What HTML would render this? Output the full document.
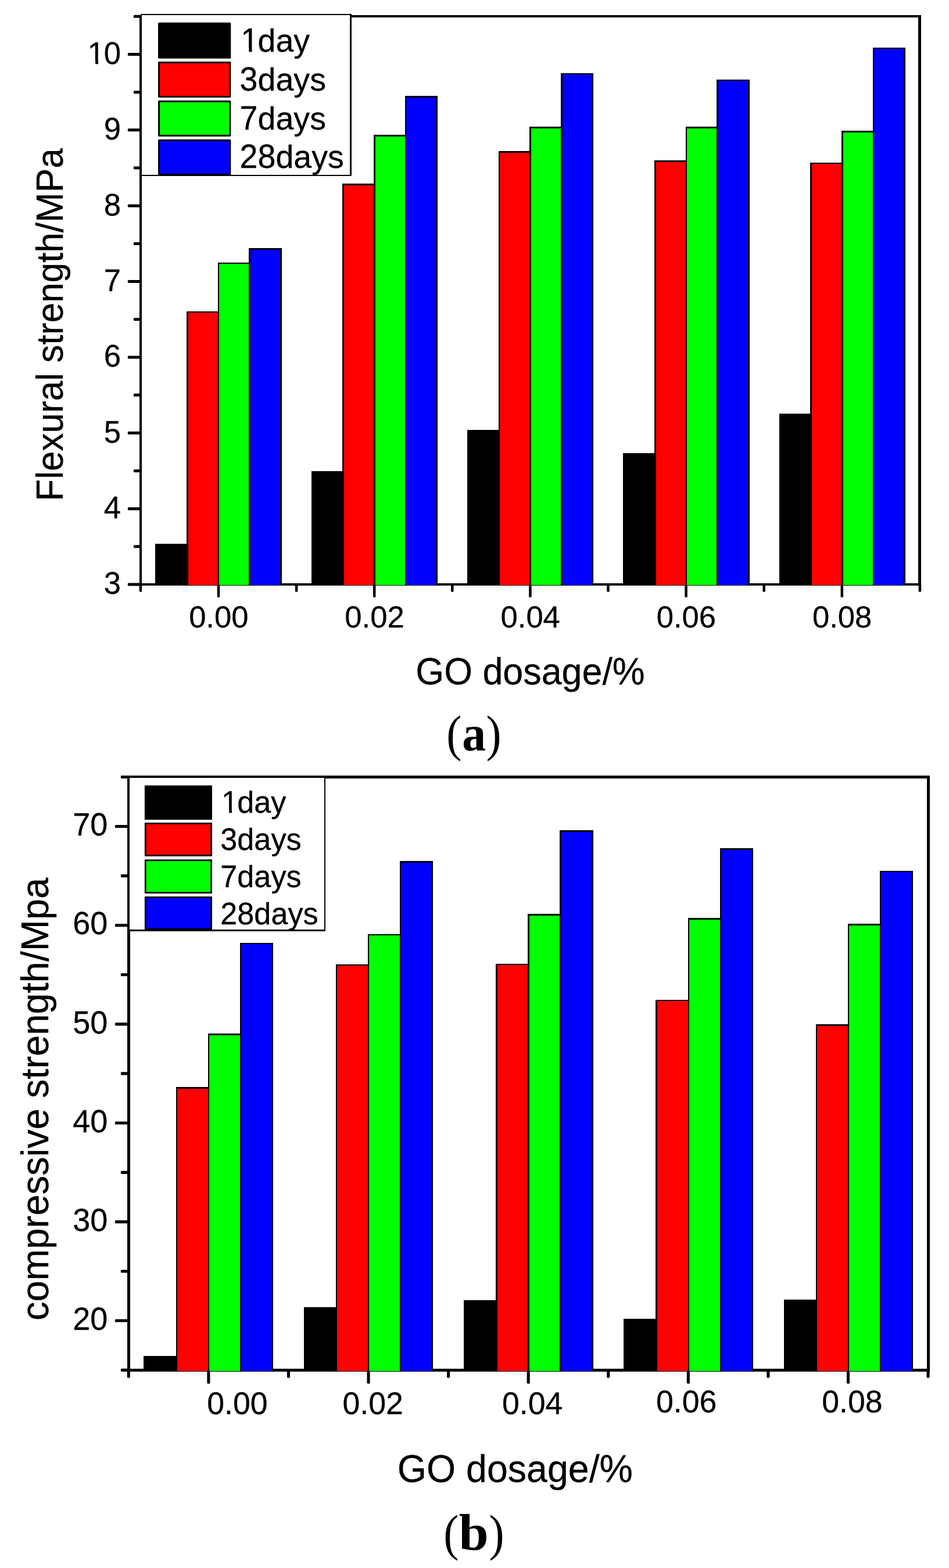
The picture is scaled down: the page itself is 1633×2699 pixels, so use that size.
<!DOCTYPE html>
<html lang="en"><head><meta charset="utf-8"><title>Flexural and compressive strength vs GO dosage</title>
<style>html,body{margin:0;padding:0;background:#fff;}body{width:1633px;height:2699px;overflow:hidden;}svg{display:block;}</style>
</head><body>
<svg width="1633" height="2699" viewBox="0 0 1633 2699">
<rect x="0" y="0" width="1633" height="2699" fill="#ffffff"/>
<defs><clipPath id="k1"><path clip-rule="evenodd" d="M-20 -88.96 H444.8 V55.6 H-20 Z M3.31 -5.52 H15.78 V4 H3.31 Z M21 -5.52 H31.52 V4 H21 Z"/></clipPath><clipPath id="k2"><path clip-rule="evenodd" d="M-20 -84.16 H420.8 V52.6 H-20 Z M2.77 -5.13 H14.63 V4 H2.77 Z M19.58 -5.13 H29.54 V4 H19.58 Z"/></clipPath><clipPath id="k3"><path clip-rule="evenodd" d="M-20 -83.52 H417.6 V52.2 H-20 Z M3.15 -5.26 H14.93 V4 H3.15 Z M19.84 -5.26 H29.73 V4 H19.84 Z"/></clipPath></defs>
<g shape-rendering="crispEdges">
<rect x="239.85" y="25.85" width="4.3" height="982.5" fill="#000"/>
<rect x="1580.35" y="25.85" width="4.3" height="982.5" fill="#000"/>
<rect x="239.85" y="25.85" width="1344.8" height="4.3" fill="#000"/>
<rect x="239.85" y="1004.05" width="1344.8" height="4.3" fill="#000"/>
</g>
<g>
<rect x="219.85" y="1003.5" width="22" height="5" rx="1.6" fill="#000"/>
<rect x="229.85" y="938.32" width="12" height="5" rx="1.6" fill="#000"/>
<rect x="219.85" y="873.14" width="22" height="5" rx="1.6" fill="#000"/>
<rect x="229.85" y="807.96" width="12" height="5" rx="1.6" fill="#000"/>
<rect x="219.85" y="742.78" width="22" height="5" rx="1.6" fill="#000"/>
<rect x="229.85" y="677.6" width="12" height="5" rx="1.6" fill="#000"/>
<rect x="219.85" y="612.42" width="22" height="5" rx="1.6" fill="#000"/>
<rect x="229.85" y="547.24" width="12" height="5" rx="1.6" fill="#000"/>
<rect x="219.85" y="482.06" width="22" height="5" rx="1.6" fill="#000"/>
<rect x="229.85" y="416.88" width="12" height="5" rx="1.6" fill="#000"/>
<rect x="219.85" y="351.7" width="22" height="5" rx="1.6" fill="#000"/>
<rect x="229.85" y="286.52" width="12" height="5" rx="1.6" fill="#000"/>
<rect x="219.85" y="221.34" width="22" height="5" rx="1.6" fill="#000"/>
<rect x="229.85" y="156.16" width="12" height="5" rx="1.6" fill="#000"/>
<rect x="219.85" y="90.98" width="22" height="5" rx="1.6" fill="#000"/>
<rect x="229.85" y="25.8" width="12" height="5" rx="1.6" fill="#000"/>
<rect x="239.65" y="1006.35" width="4.5" height="12.5" rx="1.6" fill="#000"/>
<rect x="373.75" y="1006.35" width="4.5" height="22" rx="1.6" fill="#000"/>
<rect x="507.85" y="1006.35" width="4.5" height="12.5" rx="1.6" fill="#000"/>
<rect x="641.95" y="1006.35" width="4.5" height="22" rx="1.6" fill="#000"/>
<rect x="776.05" y="1006.35" width="4.5" height="12.5" rx="1.6" fill="#000"/>
<rect x="910.15" y="1006.35" width="4.5" height="22" rx="1.6" fill="#000"/>
<rect x="1044.25" y="1006.35" width="4.5" height="12.5" rx="1.6" fill="#000"/>
<rect x="1178.35" y="1006.35" width="4.5" height="22" rx="1.6" fill="#000"/>
<rect x="1312.45" y="1006.35" width="4.5" height="12.5" rx="1.6" fill="#000"/>
<rect x="1446.55" y="1006.35" width="4.5" height="22" rx="1.6" fill="#000"/>
<rect x="1580.65" y="1006.35" width="4.5" height="12.5" rx="1.6" fill="#000"/>
</g>
<clipPath id="bc1"><rect x="0" y="0" width="1633" height="1008"/></clipPath>
<g clip-path="url(#bc1)" stroke="#000" stroke-width="2.5" shape-rendering="crispEdges">
<rect x="268.68" y="937.2" width="53.66" height="71.05" fill="#000000"/>
<rect x="322.34" y="537.2" width="53.66" height="471.05" fill="#ff0000"/>
<rect x="376" y="453.1" width="53.66" height="555.15" fill="#00ff00"/>
<rect x="429.66" y="428.5" width="53.66" height="579.75" fill="#0000ff"/>
<rect x="537.03" y="812" width="53.66" height="196.25" fill="#000000"/>
<rect x="590.69" y="317.3" width="53.66" height="690.95" fill="#ff0000"/>
<rect x="644.35" y="233.4" width="53.66" height="774.85" fill="#00ff00"/>
<rect x="698.01" y="166.5" width="53.66" height="841.75" fill="#0000ff"/>
<rect x="805.38" y="741.2" width="53.66" height="267.05" fill="#000000"/>
<rect x="859.04" y="261.3" width="53.66" height="746.95" fill="#ff0000"/>
<rect x="912.7" y="219.5" width="53.66" height="788.75" fill="#00ff00"/>
<rect x="966.36" y="127" width="53.66" height="881.25" fill="#0000ff"/>
<rect x="1073.73" y="780.8" width="53.66" height="227.45" fill="#000000"/>
<rect x="1127.39" y="277.3" width="53.66" height="730.95" fill="#ff0000"/>
<rect x="1181.05" y="219.5" width="53.66" height="788.75" fill="#00ff00"/>
<rect x="1234.71" y="138.2" width="53.66" height="870.05" fill="#0000ff"/>
<rect x="1342.08" y="713.1" width="53.66" height="295.15" fill="#000000"/>
<rect x="1395.74" y="281.2" width="53.66" height="727.05" fill="#ff0000"/>
<rect x="1449.4" y="226.4" width="53.66" height="781.85" fill="#00ff00"/>
<rect x="1503.06" y="83.1" width="53.66" height="925.15" fill="#0000ff"/>
</g>
<g shape-rendering="crispEdges" stroke="#000">
<rect x="243" y="25.1" width="360.6" height="277" fill="#fff" stroke-width="2.4"/>
</g>
<g stroke="#000" stroke-width="3" stroke-linejoin="round">
<rect x="273.5" y="40.3" width="122.3" height="59" rx="0" fill="#000000"/>
<rect x="273.5" y="107.4" width="122.3" height="59" rx="0" fill="#ff0000"/>
<rect x="273.5" y="174.5" width="122.3" height="59" rx="0" fill="#00ff00"/>
<rect x="273.5" y="241.6" width="122.3" height="59" rx="0" fill="#0000ff"/>
</g>
<g transform="translate(412.6 89)" clip-path="url(#k1)"><text x="0" y="0" font-family="'Liberation Sans', Arial, Helvetica, sans-serif" font-size="55.6" fill="#000" stroke="#000" stroke-width="0.3" stroke-linejoin="round"><tspan dx="1.6" font-size="57.82" textLength="30.92" lengthAdjust="spacingAndGlyphs">1</tspan><tspan dx="-1.6">day</tspan></text></g>
<text x="412.6" y="155.8" font-family="'Liberation Sans', Arial, Helvetica, sans-serif" font-size="55.6" fill="#000" stroke="#000" stroke-width="0.3" stroke-linejoin="round"><tspan font-size="57.82" textLength="30.92" lengthAdjust="spacingAndGlyphs">3</tspan>days</text>
<text x="412.6" y="222.6" font-family="'Liberation Sans', Arial, Helvetica, sans-serif" font-size="55.6" fill="#000" stroke="#000" stroke-width="0.3" stroke-linejoin="round"><tspan font-size="57.82" textLength="30.92" lengthAdjust="spacingAndGlyphs">7</tspan>days</text>
<text x="412.6" y="289.4" font-family="'Liberation Sans', Arial, Helvetica, sans-serif" font-size="55.6" fill="#000" stroke="#000" stroke-width="0.3" stroke-linejoin="round"><tspan font-size="57.82" textLength="61.84" lengthAdjust="spacingAndGlyphs">28</tspan>days</text>
<text transform="translate(208 1022.3) scale(1.0000 1.0120)" font-family="'Liberation Sans', Arial, Helvetica, sans-serif" font-size="52.6" fill="#000" text-anchor="end" stroke="#000" stroke-width="0.3" stroke-linejoin="round">3</text>
<text transform="translate(208 891.94) scale(1.0000 1.0120)" font-family="'Liberation Sans', Arial, Helvetica, sans-serif" font-size="52.6" fill="#000" text-anchor="end" stroke="#000" stroke-width="0.3" stroke-linejoin="round">4</text>
<text transform="translate(208 761.58) scale(1.0000 1.0120)" font-family="'Liberation Sans', Arial, Helvetica, sans-serif" font-size="52.6" fill="#000" text-anchor="end" stroke="#000" stroke-width="0.3" stroke-linejoin="round">5</text>
<text transform="translate(208 631.22) scale(1.0000 1.0120)" font-family="'Liberation Sans', Arial, Helvetica, sans-serif" font-size="52.6" fill="#000" text-anchor="end" stroke="#000" stroke-width="0.3" stroke-linejoin="round">6</text>
<text transform="translate(208 500.86) scale(1.0000 1.0120)" font-family="'Liberation Sans', Arial, Helvetica, sans-serif" font-size="52.6" fill="#000" text-anchor="end" stroke="#000" stroke-width="0.3" stroke-linejoin="round">7</text>
<text transform="translate(208 370.5) scale(1.0000 1.0120)" font-family="'Liberation Sans', Arial, Helvetica, sans-serif" font-size="52.6" fill="#000" text-anchor="end" stroke="#000" stroke-width="0.3" stroke-linejoin="round">8</text>
<text transform="translate(208 240.14) scale(1.0000 1.0120)" font-family="'Liberation Sans', Arial, Helvetica, sans-serif" font-size="52.6" fill="#000" text-anchor="end" stroke="#000" stroke-width="0.3" stroke-linejoin="round">9</text>
<g transform="translate(149.5 109.78) scale(1 1.0120)" clip-path="url(#k2)"><text x="0" y="0" font-family="'Liberation Sans', Arial, Helvetica, sans-serif" font-size="52.6" fill="#000" stroke="#000" stroke-width="0.3" stroke-linejoin="round"><tspan dx="1.2">1</tspan><tspan dx="-1.2">0</tspan></text></g>
<text transform="translate(376.3 1080.3) scale(1.0000 0.9950)" font-family="'Liberation Sans', Arial, Helvetica, sans-serif" font-size="52.6" fill="#000" text-anchor="middle" stroke="#000" stroke-width="0.3" stroke-linejoin="round">0.00</text>
<text transform="translate(644.5 1080.3) scale(1.0000 0.9950)" font-family="'Liberation Sans', Arial, Helvetica, sans-serif" font-size="52.6" fill="#000" text-anchor="middle" stroke="#000" stroke-width="0.3" stroke-linejoin="round">0.02</text>
<text transform="translate(912.7 1080.3) scale(1.0000 0.9950)" font-family="'Liberation Sans', Arial, Helvetica, sans-serif" font-size="52.6" fill="#000" text-anchor="middle" stroke="#000" stroke-width="0.3" stroke-linejoin="round">0.04</text>
<text transform="translate(1180.9 1080.3) scale(1.0000 0.9950)" font-family="'Liberation Sans', Arial, Helvetica, sans-serif" font-size="52.6" fill="#000" text-anchor="middle" stroke="#000" stroke-width="0.3" stroke-linejoin="round">0.06</text>
<text transform="translate(1449.1 1080.3) scale(1.0000 0.9950)" font-family="'Liberation Sans', Arial, Helvetica, sans-serif" font-size="52.6" fill="#000" text-anchor="middle" stroke="#000" stroke-width="0.3" stroke-linejoin="round">0.08</text>
<text transform="translate(912.5 1177.6) scale(1.0000 1.0350)" font-family="'Liberation Sans', Arial, Helvetica, sans-serif" font-size="62.8" fill="#000" text-anchor="middle" stroke="#000" stroke-width="0.3" stroke-linejoin="round">GO dosage/%</text>
<text transform="translate(108 559) rotate(-90) scale(1.0000 1.0350)" font-family="'Liberation Sans', Arial, Helvetica, sans-serif" font-size="62.1" fill="#000" text-anchor="middle" stroke="#000" stroke-width="0.3" stroke-linejoin="round">Flexural strength/MPa</text>
<text font-family="'Liberation Serif', 'Times New Roman', serif" fill="#000"><tspan x="768.3" y="1291.6" font-size="86" textLength="26.06" lengthAdjust="spacingAndGlyphs">(</tspan><tspan x="795.3" y="1292" font-size="86" font-weight="bold" textLength="40.85" lengthAdjust="spacingAndGlyphs">a</tspan><tspan x="836.4" y="1291.6" font-size="86" textLength="26.06" lengthAdjust="spacingAndGlyphs">)</tspan></text>
<g shape-rendering="crispEdges">
<rect x="218.85" y="1335.05" width="4.7" height="1025.6" fill="#000"/>
<rect x="1595.25" y="1335.05" width="4.7" height="1025.6" fill="#000"/>
<rect x="218.85" y="1335.05" width="1381.1" height="4.7" fill="#000"/>
<rect x="218.85" y="2355.95" width="1381.1" height="4.7" fill="#000"/>
</g>
<g>
<rect x="207.85" y="2355.85" width="13" height="5.1" rx="1.6" fill="#000"/>
<rect x="197.85" y="2270.77" width="23" height="5.1" rx="1.6" fill="#000"/>
<rect x="207.85" y="2185.69" width="13" height="5.1" rx="1.6" fill="#000"/>
<rect x="197.85" y="2100.61" width="23" height="5.1" rx="1.6" fill="#000"/>
<rect x="207.85" y="2015.53" width="13" height="5.1" rx="1.6" fill="#000"/>
<rect x="197.85" y="1930.45" width="23" height="5.1" rx="1.6" fill="#000"/>
<rect x="207.85" y="1845.37" width="13" height="5.1" rx="1.6" fill="#000"/>
<rect x="197.85" y="1760.29" width="23" height="5.1" rx="1.6" fill="#000"/>
<rect x="207.85" y="1675.21" width="13" height="5.1" rx="1.6" fill="#000"/>
<rect x="197.85" y="1590.13" width="23" height="5.1" rx="1.6" fill="#000"/>
<rect x="207.85" y="1505.05" width="13" height="5.1" rx="1.6" fill="#000"/>
<rect x="197.85" y="1419.97" width="23" height="5.1" rx="1.6" fill="#000"/>
<rect x="207.85" y="1334.89" width="13" height="5.1" rx="1.6" fill="#000"/>
<rect x="218.77" y="2358.65" width="5.1" height="13" rx="1.6" fill="#000"/>
<rect x="356.35" y="2358.65" width="5.1" height="23" rx="1.6" fill="#000"/>
<rect x="493.92" y="2358.65" width="5.1" height="13" rx="1.6" fill="#000"/>
<rect x="631.5" y="2358.65" width="5.1" height="23" rx="1.6" fill="#000"/>
<rect x="769.08" y="2358.65" width="5.1" height="13" rx="1.6" fill="#000"/>
<rect x="906.65" y="2358.65" width="5.1" height="23" rx="1.6" fill="#000"/>
<rect x="1044.23" y="2358.65" width="5.1" height="13" rx="1.6" fill="#000"/>
<rect x="1181.8" y="2358.65" width="5.1" height="23" rx="1.6" fill="#000"/>
<rect x="1319.37" y="2358.65" width="5.1" height="13" rx="1.6" fill="#000"/>
<rect x="1456.95" y="2358.65" width="5.1" height="23" rx="1.6" fill="#000"/>
<rect x="1594.52" y="2358.65" width="5.1" height="13" rx="1.6" fill="#000"/>
</g>
<clipPath id="bc2"><rect x="0" y="0" width="1633" height="2361"/></clipPath>
<g clip-path="url(#bc2)" stroke="#000" stroke-width="2.5" shape-rendering="crispEdges">
<rect x="248.7" y="2335" width="55.05" height="26.25" fill="#000000"/>
<rect x="303.75" y="1872.3" width="55.05" height="488.95" fill="#ff0000"/>
<rect x="358.8" y="1780.6" width="55.05" height="580.65" fill="#00ff00"/>
<rect x="413.85" y="1624.2" width="55.05" height="737.05" fill="#0000ff"/>
<rect x="524.03" y="2251.2" width="55.05" height="110.05" fill="#000000"/>
<rect x="579.08" y="1661.2" width="55.05" height="700.05" fill="#ff0000"/>
<rect x="634.13" y="1609.2" width="55.05" height="752.05" fill="#00ff00"/>
<rect x="689.18" y="1483.4" width="55.05" height="877.85" fill="#0000ff"/>
<rect x="799.36" y="2239.1" width="55.05" height="122.15" fill="#000000"/>
<rect x="854.41" y="1659.8" width="55.05" height="701.45" fill="#ff0000"/>
<rect x="909.46" y="1574.6" width="55.05" height="786.65" fill="#00ff00"/>
<rect x="964.51" y="1430.5" width="55.05" height="930.75" fill="#0000ff"/>
<rect x="1074.69" y="2271.1" width="55.05" height="90.15" fill="#000000"/>
<rect x="1129.74" y="1722.2" width="55.05" height="639.05" fill="#ff0000"/>
<rect x="1184.79" y="1581.3" width="55.05" height="779.95" fill="#00ff00"/>
<rect x="1239.84" y="1461.6" width="55.05" height="899.65" fill="#0000ff"/>
<rect x="1350.02" y="2238" width="55.05" height="123.25" fill="#000000"/>
<rect x="1405.07" y="1764.7" width="55.05" height="596.55" fill="#ff0000"/>
<rect x="1460.12" y="1591.3" width="55.05" height="769.95" fill="#00ff00"/>
<rect x="1515.17" y="1500.2" width="55.05" height="861.05" fill="#0000ff"/>
</g>
<g shape-rendering="crispEdges" stroke="#000">
<rect x="222" y="1337.4" width="337.1" height="263.8" fill="#fff" stroke-width="2.7"/>
</g>
<g stroke="#000" stroke-width="2.7" stroke-linejoin="miter">
<rect x="250.25" y="1353.35" width="113.4" height="56.3" rx="0" fill="#000000"/>
<rect x="250.25" y="1417.35" width="113.4" height="55.3" rx="0" fill="#ff0000"/>
<rect x="250.25" y="1480.75" width="113.4" height="55.9" rx="0" fill="#00ff00"/>
<rect x="250.25" y="1544.45" width="113.4" height="54.9" rx="0" fill="#0000ff"/>
</g>
<g transform="translate(379.3 1399.1)" clip-path="url(#k3)"><text x="0" y="0" font-family="'Liberation Sans', Arial, Helvetica, sans-serif" font-size="52.2" fill="#000" stroke="#000" stroke-width="0.3" stroke-linejoin="round"><tspan dx="1.6" font-size="54.29" textLength="29.03" lengthAdjust="spacingAndGlyphs">1</tspan><tspan dx="-1.6">day</tspan></text></g>
<text x="379.3" y="1462.9" font-family="'Liberation Sans', Arial, Helvetica, sans-serif" font-size="52.2" fill="#000" stroke="#000" stroke-width="0.3" stroke-linejoin="round"><tspan font-size="54.29" textLength="29.03" lengthAdjust="spacingAndGlyphs">3</tspan>days</text>
<text x="379.3" y="1526.6" font-family="'Liberation Sans', Arial, Helvetica, sans-serif" font-size="52.2" fill="#000" stroke="#000" stroke-width="0.3" stroke-linejoin="round"><tspan font-size="54.29" textLength="29.03" lengthAdjust="spacingAndGlyphs">7</tspan>days</text>
<text x="379.3" y="1590.6" font-family="'Liberation Sans', Arial, Helvetica, sans-serif" font-size="52.2" fill="#000" stroke="#000" stroke-width="0.3" stroke-linejoin="round"><tspan font-size="54.29" textLength="58.06" lengthAdjust="spacingAndGlyphs">28</tspan>days</text>
<text transform="translate(185.4 2289.12) scale(1.0000 1.0200)" font-family="'Liberation Sans', Arial, Helvetica, sans-serif" font-size="54" fill="#000" text-anchor="end" stroke="#000" stroke-width="0.3" stroke-linejoin="round">20</text>
<text transform="translate(185.4 2118.96) scale(1.0000 1.0200)" font-family="'Liberation Sans', Arial, Helvetica, sans-serif" font-size="54" fill="#000" text-anchor="end" stroke="#000" stroke-width="0.3" stroke-linejoin="round">30</text>
<text transform="translate(185.4 1948.8) scale(1.0000 1.0200)" font-family="'Liberation Sans', Arial, Helvetica, sans-serif" font-size="54" fill="#000" text-anchor="end" stroke="#000" stroke-width="0.3" stroke-linejoin="round">40</text>
<text transform="translate(185.4 1778.64) scale(1.0000 1.0200)" font-family="'Liberation Sans', Arial, Helvetica, sans-serif" font-size="54" fill="#000" text-anchor="end" stroke="#000" stroke-width="0.3" stroke-linejoin="round">50</text>
<text transform="translate(185.4 1608.48) scale(1.0000 1.0200)" font-family="'Liberation Sans', Arial, Helvetica, sans-serif" font-size="54" fill="#000" text-anchor="end" stroke="#000" stroke-width="0.3" stroke-linejoin="round">60</text>
<text transform="translate(185.4 1438.32) scale(1.0000 1.0200)" font-family="'Liberation Sans', Arial, Helvetica, sans-serif" font-size="54" fill="#000" text-anchor="end" stroke="#000" stroke-width="0.3" stroke-linejoin="round">70</text>
<text transform="translate(408.4 2433.5)" font-family="'Liberation Sans', Arial, Helvetica, sans-serif" font-size="53.6" fill="#000" text-anchor="middle" stroke="#000" stroke-width="0.3" stroke-linejoin="round">0.00</text>
<text transform="translate(641.6 2433.5)" font-family="'Liberation Sans', Arial, Helvetica, sans-serif" font-size="53.6" fill="#000" text-anchor="middle" stroke="#000" stroke-width="0.3" stroke-linejoin="round">0.02</text>
<text transform="translate(916.2 2433.5)" font-family="'Liberation Sans', Arial, Helvetica, sans-serif" font-size="53.6" fill="#000" text-anchor="middle" stroke="#000" stroke-width="0.3" stroke-linejoin="round">0.04</text>
<text transform="translate(1181.1 2431)" font-family="'Liberation Sans', Arial, Helvetica, sans-serif" font-size="53.6" fill="#000" text-anchor="middle" stroke="#000" stroke-width="0.3" stroke-linejoin="round">0.06</text>
<text transform="translate(1466.4 2431)" font-family="'Liberation Sans', Arial, Helvetica, sans-serif" font-size="53.6" fill="#000" text-anchor="middle" stroke="#000" stroke-width="0.3" stroke-linejoin="round">0.08</text>
<text transform="translate(886.4 2550.9) scale(1.0000 1.0350)" font-family="'Liberation Sans', Arial, Helvetica, sans-serif" font-size="64.5" fill="#000" text-anchor="middle" stroke="#000" stroke-width="0.3" stroke-linejoin="round">GO dosage/%</text>
<text transform="translate(83 1891.9) rotate(-90) scale(1.0000 1.0350)" font-family="'Liberation Sans', Arial, Helvetica, sans-serif" font-size="65" fill="#000" text-anchor="middle" stroke="#000" stroke-width="0.3" stroke-linejoin="round">compressive strength/Mpa</text>
<text font-family="'Liberation Serif', 'Times New Roman', serif" fill="#000"><tspan x="763.3" y="2667.5" font-size="86" textLength="26.06" lengthAdjust="spacingAndGlyphs">(</tspan><tspan x="789.6" y="2668.2" font-size="89.7" font-weight="bold" textLength="51.23" lengthAdjust="spacingAndGlyphs">b</tspan><tspan x="841.4" y="2667.5" font-size="86" textLength="26.06" lengthAdjust="spacingAndGlyphs">)</tspan></text>
</svg></body></html>
